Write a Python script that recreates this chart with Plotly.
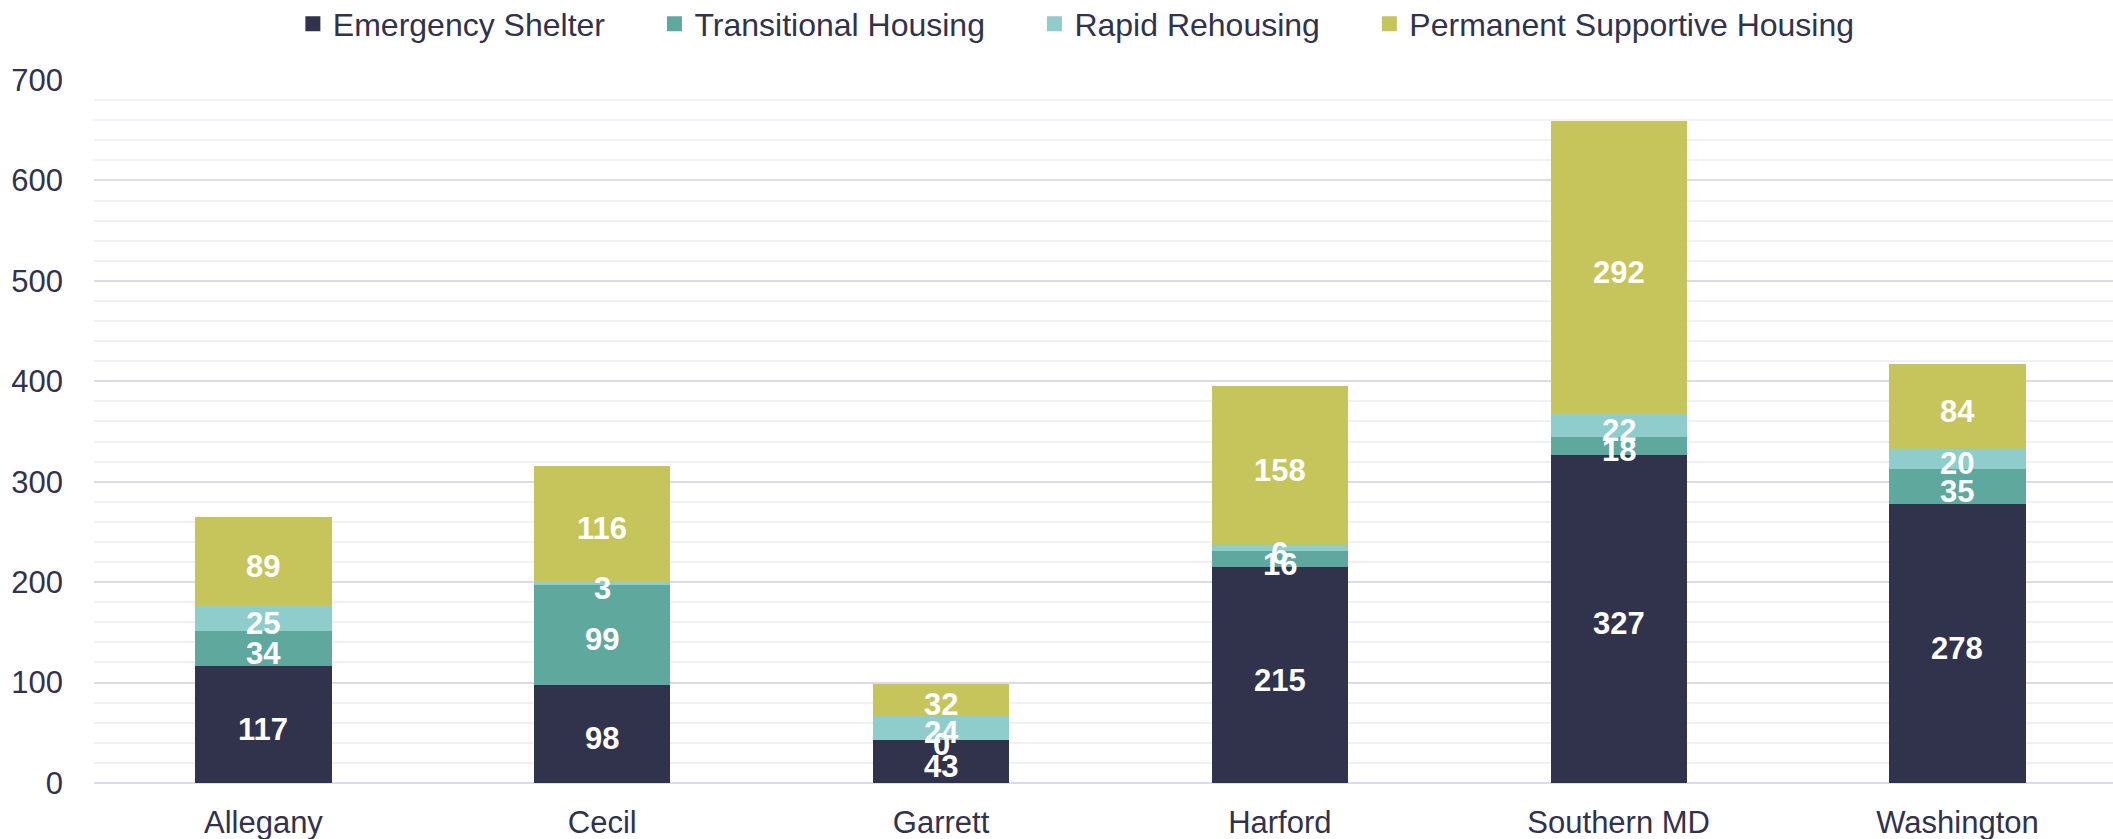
import plotly.graph_objects as go

regions = ["Allegany", "Cecil", "Garrett", "Harford", "Southern MD", "Washington"]
emergency_shelter = [117, 98, 43, 215, 327, 278]
transitional_housing = [34, 99, 0, 16, 18, 35]
rapid_rehousing = [25, 3, 24, 6, 22, 20]
permanent_supportive = [89, 116, 32, 158, 292, 84]

series_names = ["Emergency Shelter", "Transitional Housing", "Rapid Rehousing", "Permanent Supportive Housing"]
series_values = [emergency_shelter, transitional_housing, rapid_rehousing, permanent_supportive]
colors = ["#31324C", "#5FA89E", "#8ECDCB", "#C5C55C"]
legend_pad = [5, 5, 5, 0]

FONT = "Arial, 'Liberation Sans', sans-serif"
TXT = "#31324C"

fig = go.Figure()
base = [0] * len(regions)
for name, vals, col in zip(series_names, series_values, colors):
    fig.add_trace(go.Bar(
        x=regions, y=vals, name=name, marker=dict(color=col, line=dict(width=0)),
        showlegend=False, hoverinfo="skip",
    ))
    for cat, b, v in zip(regions, base, vals):
        fig.add_annotation(
            x=cat, y=b + v / 2, text=str(v), showarrow=False, yshift=-5,
            xanchor="center", yanchor="middle",
            font=dict(family=FONT, size=31, color="white", weight="bold"),
        )
    base = [b + v for b, v in zip(base, vals)]

# legend entries
for name, col, pad in zip(series_names, colors, legend_pad):
    fig.add_trace(go.Scatter(
        x=[None], y=[None], mode="markers", name=name + "\u00a0" * pad,
        marker=dict(symbol="square", size=15, color=col),
    ))

fig.update_layout(
    width=2113, height=839,
    margin=dict(l=94, r=0, t=80, b=56, autoexpand=False),
    paper_bgcolor="white", plot_bgcolor="white",
    barmode="stack", bargap=0.598,
    font=dict(family=FONT, size=31, color=TXT),
    legend=dict(orientation="h", x=0.0985, xanchor="left", yref="container",
                y=1 - 24 / 839, yanchor="middle",
                font=dict(size=32, color=TXT), itemsizing="trace", traceorder="normal",
                bgcolor="rgba(0,0,0,0)"),
    showlegend=True,
)
fig.update_xaxes(range=[-0.5, 5.459], showgrid=False, showline=False, zeroline=False, ticks="",
                 tickfont=dict(size=31, color=TXT), ticklabelstandoff=18)
fig.update_yaxes(range=[0, 700], dtick=100, showgrid=True, gridcolor="#DCDBE8", gridwidth=2,
                 zeroline=True, zerolinecolor="#DCDBE8", zerolinewidth=2,
                 showline=False, ticks="", tickfont=dict(size=31, color=TXT),
                 ticklabelstandoff=30,
                 minor=dict(dtick=20, showgrid=True, gridcolor="#F0F0F6", gridwidth=1.5))

fig.write_html("out.html", config={"displayModeBar": False},
               post_script="document.body.style.margin='0';document.body.style.overflow='hidden';")
